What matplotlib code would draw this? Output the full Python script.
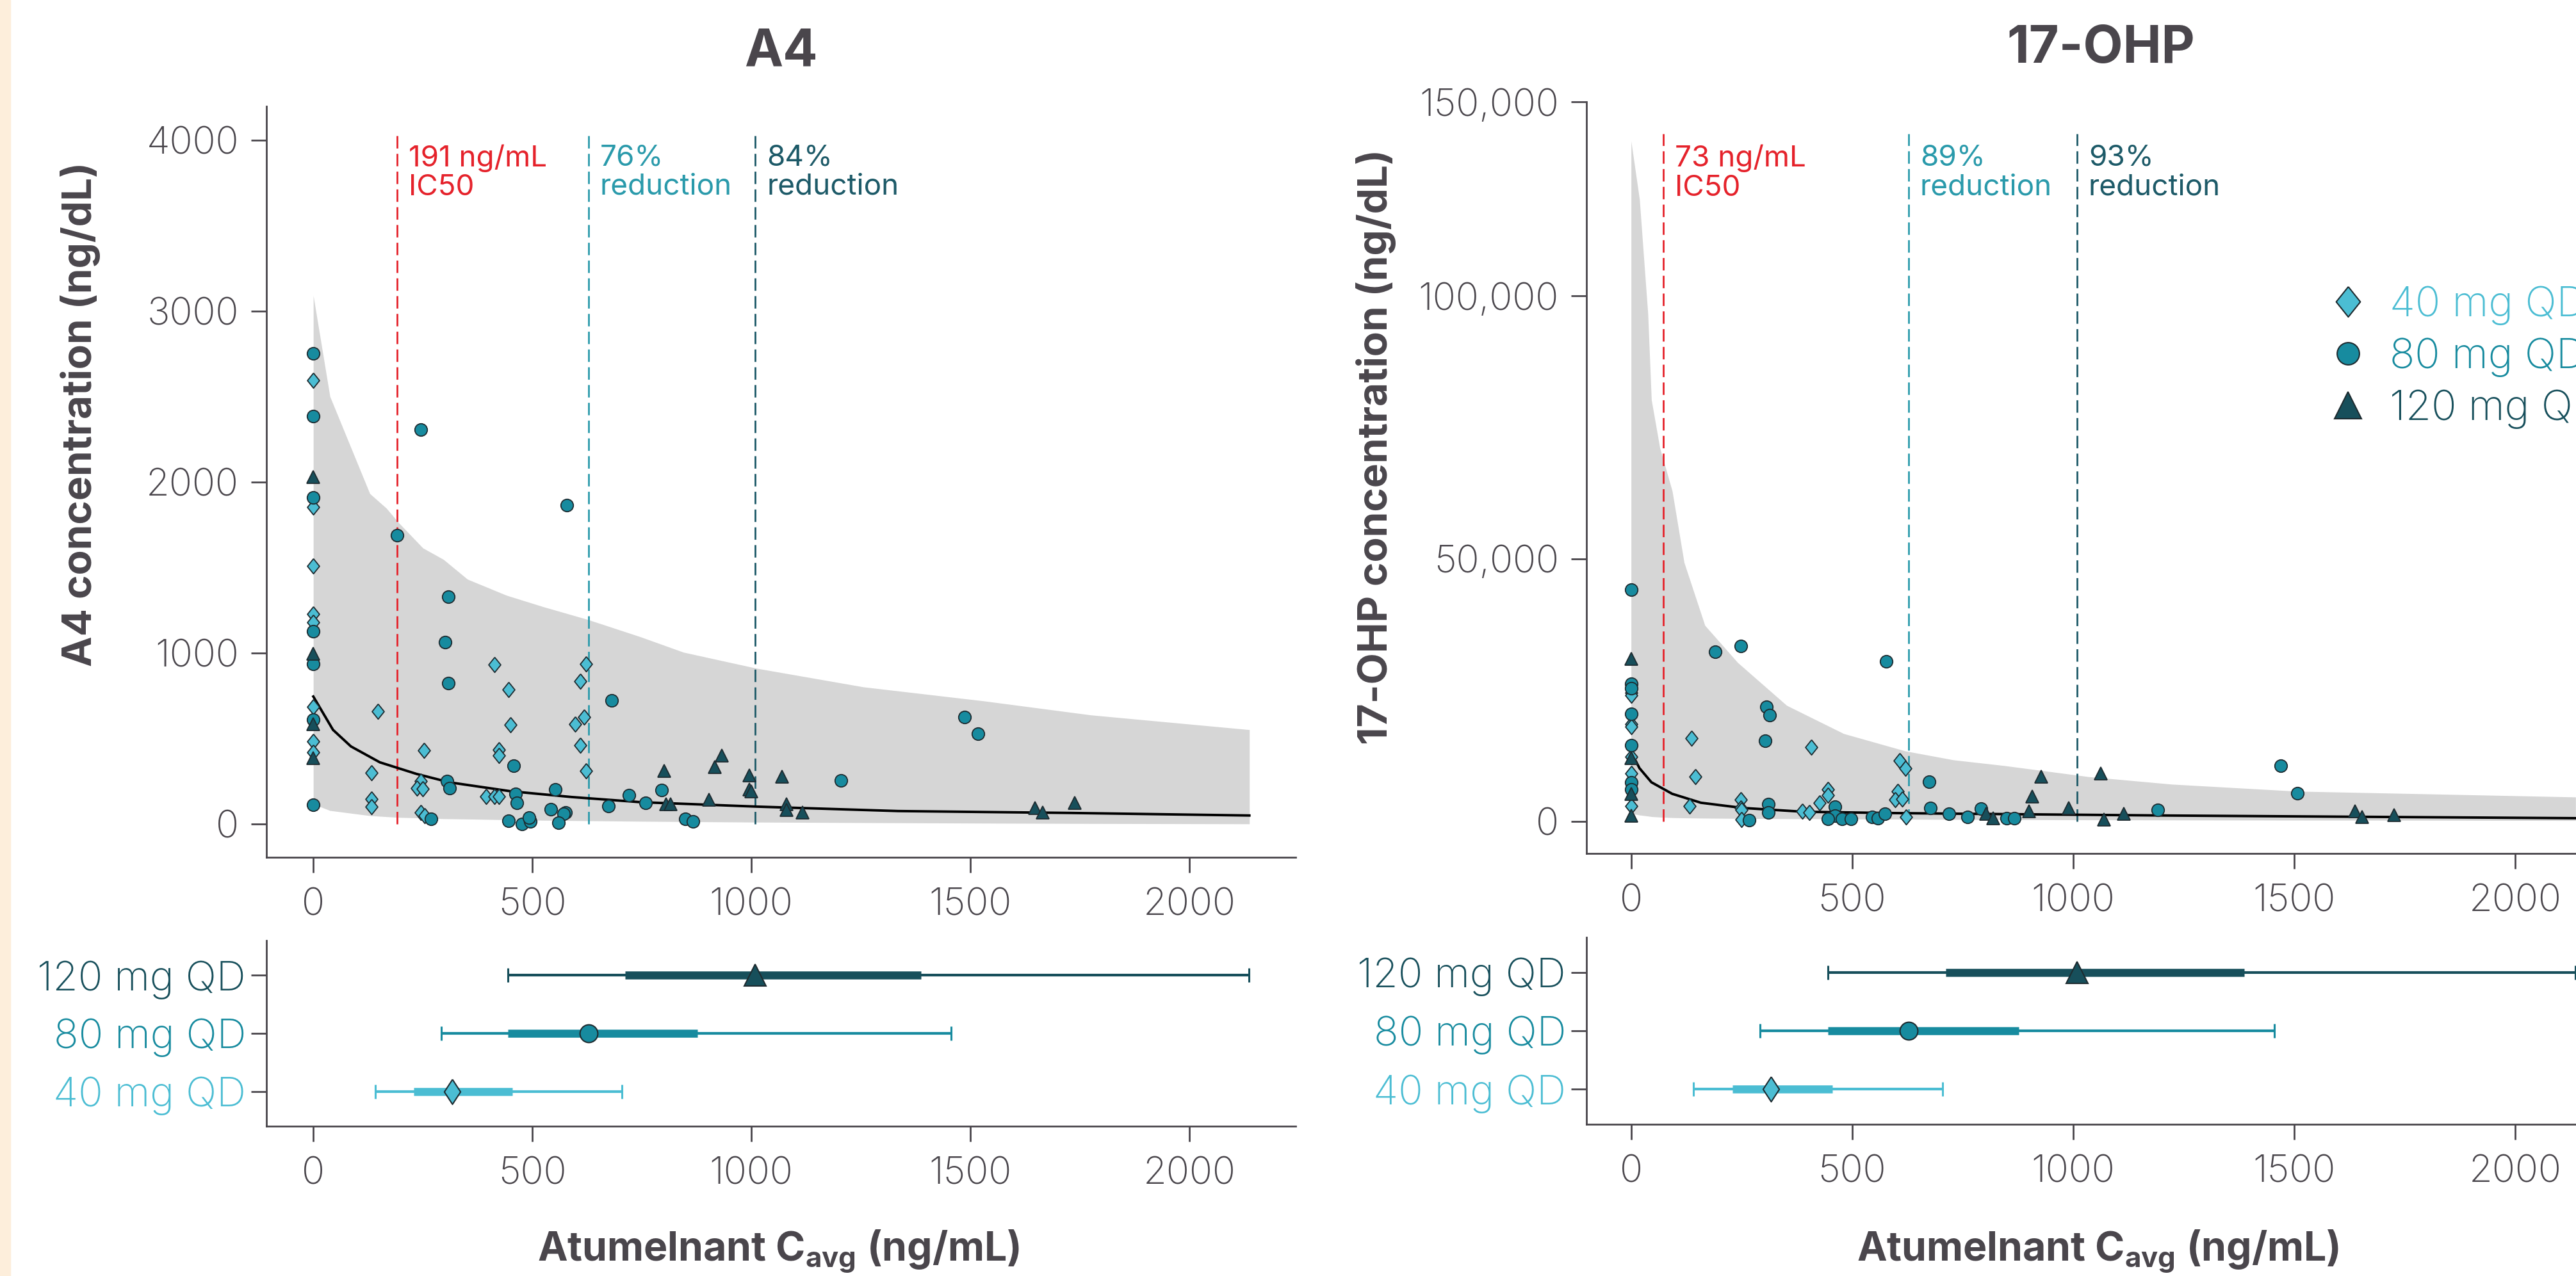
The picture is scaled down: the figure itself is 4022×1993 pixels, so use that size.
import numpy as np
import matplotlib.pyplot as plt
from matplotlib.lines import Line2D
from matplotlib.patches import Rectangle
from matplotlib.ticker import FuncFormatter

plt.rcParams['font.family'] = ['Inter', 'DejaVu Sans']
plt.rcParams['mathtext.fontset'] = 'custom'
plt.rcParams['mathtext.bf'] = 'Inter:bold'

GRAY = '#4a464c'
COLORS = {'40': '#4bbdd3', '80': '#178b9f', '120': '#174f5b'}
RED = '#e5222b'
BAND = '#d6d6d6'
EDGE = '#1e2b30'

doses = ['40', '80', '120']
dose_labels = ['40 mg QD', '80 mg QD', '120 mg QD']

# ---------------- A4 data ----------------
a4_x = {
    '40': [0, 0, 0, 0, 0, 0, 0, 0, 148, 133, 133, 133, 253, 246, 236, 250, 246, 254,
           414, 446, 450, 424, 424, 395, 414, 424, 623, 609, 618, 598, 609, 623],
    '80': [0, 0, 0, 0, 0, 0, 0, 246, 191, 579, 309, 301, 308, 458, 681, 306, 311, 462,
           465, 553, 542, 576, 572, 560, 446, 477, 496, 493, 269, 674, 721, 795, 759,
           849, 867, 1205, 1487, 1517],
    '120': [0, 0, 0, 0, 801, 806, 816, 904, 916, 933, 995, 995, 1000, 1070, 1080, 1080,
            1117, 1647, 1665, 1738],
}
a4_y = {
    '40': [2596, 1854, 1509, 1228, 1180, 685, 483, 419, 659, 300, 146, 101, 431, 251, 210,
           206, 67, 49, 933, 787, 581, 434, 401, 161, 161, 161, 936, 835, 625, 584, 461, 311],
    '80': [2753, 2386, 1910, 1127, 936, 610, 112, 2307, 1689, 1865, 1330, 1064, 824, 341,
           723, 251, 210, 176, 124, 202, 86, 67, 60, 7, 19, 0, 15, 37, 30, 105, 169, 198,
           124, 30, 15, 255, 625, 528],
    '120': [2030, 996, 584, 386, 311, 116, 116, 142, 333, 401, 285, 202, 190, 277, 116, 82,
            67, 94, 67, 124],
}
a4_band_x = [0, 38, 129, 167, 194, 250, 297, 352, 441, 525, 627, 747, 845, 1012, 1256,
             1531, 1775, 2137]
a4_band_hi = [3090, 2500, 1932, 1846, 1764, 1614, 1547, 1431, 1337, 1270, 1195, 1094, 1004,
              910, 801, 719, 637, 551]
a4_band_lo = [116, 78, 48, 42, 38, 34, 30, 28, 24, 21, 18, 15, 13, 10, 7, 4, 2, 0]
a4_med_x = [0, 45, 86, 152, 236, 311, 450, 590, 747, 1012, 1335, 1727, 2137]
a4_med_y = [745, 550, 453, 360, 292, 243, 191, 157, 127, 101, 75, 64, 49]

# ---------------- 17-OHP data ----------------
ohp_x = {
    '40': [0, 0, 0, 0, 0, 0, 0, 136, 407, 146, 132, 607, 620, 446, 446, 426, 603, 597, 613,
           248, 248, 250, 250, 387, 403, 622],
    '80': [0, 0, 0, 0, 0, 0, 0, 190, 248, 577, 306, 314, 304, 675, 677, 719, 267, 310, 310,
           462, 462, 446, 477, 498, 546, 559, 574, 762, 791, 850, 867, 1191, 1470, 1507],
    '120': [0, 0, 0, 0, 803, 819, 900, 907, 928, 990, 1062, 1070, 1115, 1638, 1654, 1726],
}
ohp_y = {
    '40': [24500, 24000, 18540, 18050, 12320, 9150, 2930, 15850, 14150, 8540, 2930, 11590,
           10120, 6100, 5000, 3540, 5730, 4150, 4270, 4150, 2560, 2200, 370, 1950, 1700, 850],
    '80': [44150, 26220, 25370, 20490, 14510, 7440, 6100, 32300, 33400, 30500, 21800, 20200,
           15370, 7560, 2560, 1460, 240, 3300, 1700, 2800, 1100, 490, 490, 490, 850, 600,
           1460, 850, 2440, 600, 600, 2200, 10600, 5370],
    '120': [30970, 12000, 5240, 1100, 1460, 600, 1950, 4760, 8540, 2560, 9150, 370, 1460,
            1950, 850, 1220],
}
ohp_band_x = [0, 19, 38, 46, 65, 93, 120, 167, 241, 352, 481, 620, 729, 845, 1035, 1223,
              1507, 1791, 2137]
ohp_band_hi = [139900, 124900, 96600, 80240, 71100, 62900, 49270, 37300, 30240, 22070, 16700,
               13400, 11700, 10600, 8500, 7070, 5730, 5240, 4630]
ohp_band_lo = [1500, 1200, 1000, 900, 800, 700, 650, 600, 550, 500, 450, 400, 350, 320, 280,
               250, 220, 200, 150]
ohp_med_x = [4, 19, 46, 93, 158, 251, 389, 574, 729, 1223, 2137]
ohp_med_y = [12560, 10120, 7440, 5240, 3540, 2560, 1830, 1590, 1460, 1100, 600]

# exposure summary per dose: min, q1, median, q3, max
cavg = {
    '40': [141, 229, 317, 455, 705],
    '80': [292, 445, 628, 877, 1456],
    '120': [445, 712, 1009, 1387, 2136],
}

a4_lines = [191, 628, 1009]
a4_line_text = ['191 ng/mL\nIC50', '76%\nreduction', '84%\nreduction']
ohp_lines = [73, 628, 1009]
ohp_line_text = ['73 ng/mL\nIC50', '89%\nreduction', '93%\nreduction']
line_colors = [RED, '#2a9aab', '#1d5a68']

# markers
diamond = [(0, 1), (0.8, 0), (0, -1), (-0.8, 0), (0, 1)]
thin_diamond = [(0, 1), (0.65, 0), (0, -1), (-0.65, 0), (0, 1)]
MARK = {'40': diamond, '80': 'o', '120': '^'}
MS_SCAT = {'40': 17, '80': 14, '120': 15}


def style(ax):
    for s in ['top', 'right']:
        ax.spines[s].set_visible(False)
    for s in ['left', 'bottom']:
        ax.spines[s].set_color(GRAY)
        ax.spines[s].set_linewidth(2)
    ax.tick_params(length=17, width=2, color=GRAY, labelsize=43, labelcolor=GRAY)
    ax.tick_params(axis='x', pad=17)
    ax.tick_params(axis='y', pad=14)
    for lab in ax.get_xticklabels() + ax.get_yticklabels():
        lab.set_fontweight('light')


C = 0.739


def fwd(y):
    y = np.asarray(y, dtype=float)
    return np.where(y > 1e5, 1e5 + (y - 1e5) * C, y)


def inv(y):
    y = np.asarray(y, dtype=float)
    return np.where(y > 1e5, 1e5 + (y - 1e5) / C, y)


fig = plt.figure(figsize=(40.23, 19.93), dpi=100)
fig.patches.append(Rectangle((0, 0), 16 / 4023, 1, transform=fig.transFigure,
                             color='#fdeedb', zorder=0))

ax1 = fig.add_axes([0.1034, 0.3282, 0.3995, 0.5886])
ax2 = fig.add_axes([0.1034, 0.1174, 0.3995, 0.1455])
ax3 = fig.add_axes([0.6157, 0.3312, 0.3995, 0.5890])
ax4 = fig.add_axes([0.6157, 0.1189, 0.3995, 0.1465])

panels = [
    (ax1, a4_x, a4_y, a4_band_x, a4_band_lo, a4_band_hi, a4_med_x, a4_med_y,
     a4_lines, a4_line_text, 4034, 3975, 'A4'),
    (ax3, ohp_x, ohp_y, ohp_band_x, ohp_band_lo, ohp_band_hi, ohp_med_x, ohp_med_y,
     ohp_lines, ohp_line_text, 141700, 139000, '17-OHP'),
]

for ax, px, py, bx, blo, bhi, mx, my, lines, ltext, ltop, ttop, title in panels:
    if title == '17-OHP':
        ax.set_yscale('function', functions=(fwd, inv))
    ax.fill_between(bx, blo, bhi, color=BAND, lw=0, zorder=1)
    for x, t, c in zip(lines, ltext, line_colors):
        ax.plot([x, x], [0, ltop], color=c, lw=2, dashes=(7, 3), zorder=2)
        ax.text(x + 26, ttop, t, color=c, fontsize=33, va='top', ha='left',
                linespacing=1.1, zorder=5)
    ax.plot(mx, my, color='black', lw=2.8, zorder=3)
    for d in doses:
        ax.plot(px[d], py[d], ls='none', marker=MARK[d], ms=MS_SCAT[d],
                mfc=COLORS[d], mec=EDGE, mew=1.3, zorder=4)
    ax.set_title(title, fontsize=58, fontweight='bold', color=GRAY, pad=44)
    ax.set_xticks([0, 500, 1000, 1500, 2000])

ax1.set_xlim(-107, 2243)
ax1.set_ylim(-195, 4198)
ax1.set_yticks([0, 1000, 2000, 3000, 4000])

ax3.set_xlim(-101, 2228)
ax3.set_ylim(-6100, 150000)
ax3.set_yticks([0, 50000, 100000, 150000])
ax3.yaxis.set_major_formatter(FuncFormatter(lambda v, p: f'{v:,.0f}'))

# exposure panels
for ax, xl in [(ax2, (-107, 2243)), (ax4, (-101, 2228))]:
    for i, d in enumerate(doses):
        lo, q1, med, q3, hi = cavg[d]
        ax.plot([lo, hi], [i, i], color=COLORS[d], lw=3, solid_capstyle='butt', zorder=2)
        ax.plot([q1, q3], [i, i], color=COLORS[d], lw=9, solid_capstyle='butt', zorder=2)
        ax.plot([lo, hi], [i, i], ls='none', marker='|', ms=16, mew=2.2,
                color=COLORS[d], zorder=2)
        mk = thin_diamond if d == '40' else MARK[d]
        ms = {'40': 28, '80': 20, '120': 25}[d]
        ax.plot([med], [i], marker=mk, ms=ms, mfc=COLORS[d], mec=EDGE, mew=1.5,
                ls='none', zorder=3)
    ax.set_xlim(*xl)
    ax.set_ylim(-0.6, 2.6)
    ax.set_xticks([0, 500, 1000, 1500, 2000])
    ax.set_yticks([0, 1, 2])
    ax.set_yticklabels(dose_labels)

for ax in [ax1, ax2, ax3, ax4]:
    style(ax)

for ax in [ax2, ax4]:
    ax.tick_params(axis='y', pad=6)
    for lab, d in zip(ax.get_yticklabels(), doses):
        lab.set_color(COLORS[d])
        lab.set_fontsize(46)

# axis titles
fig.text(126 / 4023, 1 - 647 / 1993, 'A4 concentration (ng/dL)', rotation=90,
         ha='center', va='center', fontsize=46, fontweight='bold', color=GRAY)
fig.text(2149 / 4023, 1 - 698 / 1993, '17-OHP concentration (ng/dL)', rotation=90,
         ha='center', va='center', fontsize=46, fontweight='bold', color=GRAY)
xlab = r'Atumelnant C$_{\mathbf{avg}}$ (ng/mL)'
for xc in [1216, 3276]:
    fig.text(xc / 4023, 1 - 1969 / 1993, xlab, ha='center', va='baseline',
             fontsize=45, fontweight='bold', color=GRAY)

# legend (runs off the right edge like the source)
handles = [Line2D([], [], ls='none', marker=MARK[d], mfc=COLORS[d], mec=EDGE, mew=1.5,
                  ms={'40': 34, '80': 25, '120': 30}[d]) for d in doses]
leg = fig.legend(handles, dose_labels, loc='upper left', bbox_to_anchor=(0.904, 0.776),
                 frameon=False, fontsize=47, handlelength=0.9, handletextpad=0.55,
                 borderpad=0, borderaxespad=0, labelspacing=0.3,
                 labelcolor=[COLORS[d] for d in doses])
for t in leg.get_texts():
    t.set_fontweight('light')

fig.savefig('out.png', dpi=100)
